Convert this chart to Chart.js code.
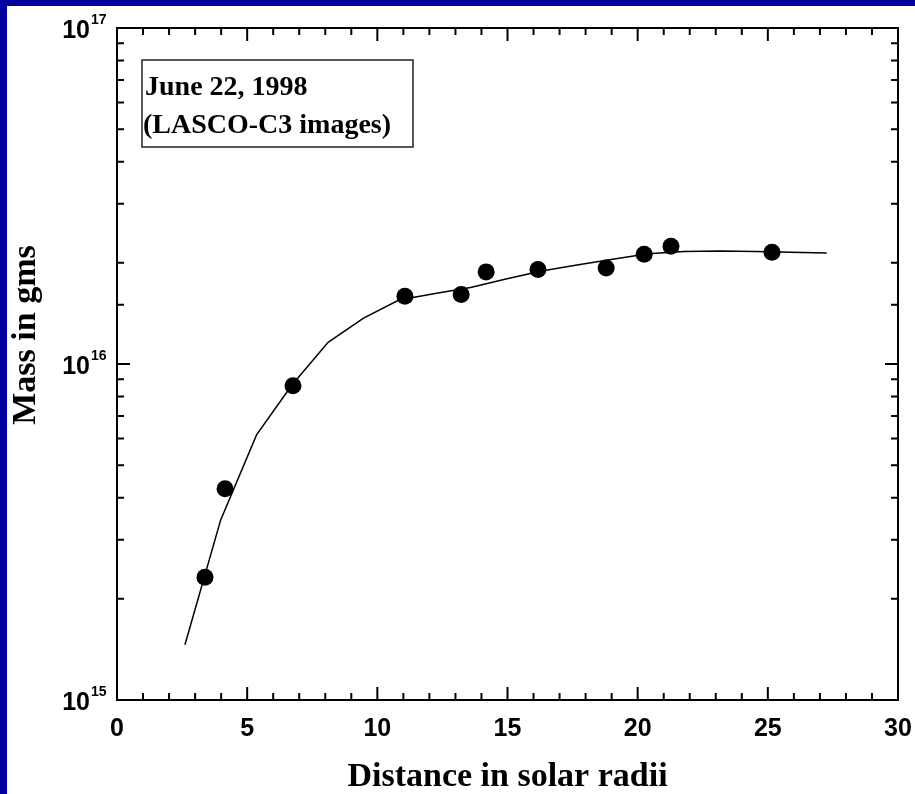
<!DOCTYPE html>
<html>
<head>
<meta charset="utf-8">
<script src="https://cdn.jsdelivr.net/npm/chart.js@4/dist/chart.umd.min.js"></script>
<style>
  html, body { margin: 0; padding: 0; background: #0000a0; }
  #wrap { width: 915px; height: 794px; }
</style>
</head>
<body>
<div id="wrap"><canvas id="c" width="915" height="794"></canvas></div>
<script>
// ---- data ----
// measured points (distance in solar radii, mass in g)
const pointDistance = [3.38, 4.15, 6.76, 11.06, 13.22, 14.18, 16.17, 18.79, 20.25, 21.28, 25.16];
const pointMass     = [2.32e15, 4.25e15, 8.61e15, 1.59e16, 1.61e16, 1.88e16, 1.91e16, 1.93e16, 2.12e16, 2.24e16, 2.15e16];
// fitted curve
const fitDistance = [2.61, 3.98, 5.36, 6.72, 8.11, 9.47, 10.83, 12.22, 13.58, 14.94, 16.31, 17.67, 19.04, 20.40, 21.78, 23.15, 24.51, 25.89, 27.26];
const fitMass     = [1.46e15, 3.43e15, 6.15e15, 8.66e15, 1.16e16, 1.37e16, 1.55e16, 1.62e16, 1.69e16, 1.79e16, 1.89e16, 1.97e16, 2.05e16, 2.13e16, 2.16e16, 2.17e16, 2.16e16, 2.15e16, 2.14e16];
// axes
const xTickValues = [0, 5, 10, 15, 20, 25, 30];
const yDecadeExponents = [15, 16, 17];
const yTickBase = '10';
const xTitle = 'Distance in solar radii';
const yTitle = 'Mass in gms';
const noteLines = ['June 22, 1998', '(LASCO-C3 images)'];

const SANS = '"Liberation Sans", Arial, Helvetica, sans-serif';
const SERIF = '"Liberation Serif", "Times New Roman", Times, serif';

function isDecade(v) {
  const e = Math.log10(v);
  return Math.abs(e - Math.round(e)) < 1e-9;
}

function zeroPadding(s) {
  s.paddingLeft = 0; s.paddingRight = 0; s.paddingTop = 0; s.paddingBottom = 0;
}

const framePlugin = {
  id: 'frame',
  beforeDraw(chart) {
    const ctx = chart.ctx;
    ctx.save();
    ctx.fillStyle = '#0000a0';
    ctx.fillRect(0, 0, chart.width, chart.height);
    ctx.fillStyle = '#ffffff';
    ctx.fillRect(7, 6, chart.width - 7, chart.height - 6);
    ctx.restore();
  },
  afterDraw(chart) {
    const ctx = chart.ctx;
    const a = chart.chartArea;
    const xs = chart.scales.x, ys = chart.scales.y;
    ctx.save();
    ctx.strokeStyle = '#000';
    ctx.fillStyle = '#000';
    // frame
    ctx.lineWidth = 2;
    ctx.strokeRect(a.left, a.top, a.right - a.left, a.bottom - a.top);
    // x ticks (inward, bottom and top)
    ctx.beginPath();
    for (let v = xs.min; v <= xs.max; v += 1) {
      const px = xs.getPixelForValue(v);
      const len = (xTickValues.indexOf(v) >= 0) ? 13 : 7;
      ctx.moveTo(px, a.bottom); ctx.lineTo(px, a.bottom - len);
      ctx.moveTo(px, a.top); ctx.lineTo(px, a.top + len);
    }
    // y ticks (inward, left and right)
    for (const t of ys.ticks) {
      const py = ys.getPixelForValue(t.value);
      const len = isDecade(t.value) ? 13 : 7;
      ctx.moveTo(a.left, py); ctx.lineTo(a.left + len, py);
      ctx.moveTo(a.right, py); ctx.lineTo(a.right - len, py);
    }
    ctx.stroke();
    // exponents of y tick labels
    ctx.font = 'bold 14px ' + SANS;
    ctx.textAlign = 'left';
    ctx.textBaseline = 'middle';
    yDecadeExponents.forEach(e => {
      const py = ys.getPixelForValue(Math.pow(10, e));
      ctx.fillText(String(e), 91, py - 8);
    });
    // y title
    ctx.save();
    ctx.translate(26, 335);
    ctx.rotate(-Math.PI / 2);
    ctx.font = 'bold 34px ' + SERIF;
    ctx.textAlign = 'center';
    ctx.textBaseline = 'middle';
    ctx.fillText(yTitle, 0, 0);
    ctx.restore();
    // note box
    const bx = a.left + 25, by = a.top + 32;
    ctx.lineWidth = 1.5;
    ctx.strokeStyle = '#222';
    ctx.strokeRect(bx, by, 271, 87);
    ctx.font = 'bold 28px ' + SERIF;
    ctx.textAlign = 'left';
    ctx.textBaseline = 'alphabetic';
    ctx.fillText(noteLines[0], bx + 3, by + 35);
    ctx.fillText(noteLines[1], bx + 1, by + 73);
    ctx.restore();
  }
};

new Chart(document.getElementById('c'), {
  type: 'scatter',
  data: {
    datasets: [
      {
        label: 'measured',
        data: pointDistance.map((x, i) => ({ x: x, y: pointMass[i] })),
        showLine: false,
        pointRadius: 8.5,
        pointBackgroundColor: '#000',
        pointBorderColor: '#000',
        pointBorderWidth: 0,
        order: 1
      },
      {
        label: 'fit',
        data: fitDistance.map((x, i) => ({ x: x, y: fitMass[i] })),
        showLine: true,
        borderColor: '#000',
        borderWidth: 1.5,
        pointRadius: 0,
        tension: 0,
        order: 2
      }
    ]
  },
  options: {
    responsive: false,
    animation: false,
    devicePixelRatio: 1,
    layout: { padding: { left: 0, top: 28, right: 17, bottom: 0 } },
    plugins: { legend: { display: false }, tooltip: { enabled: false } },
    scales: {
      x: {
        type: 'linear',
        position: 'bottom',
        min: 0, max: 30,
        grid: { display: false, drawTicks: false },
        border: { display: false },
        afterBuildTicks(s) { s.ticks = xTickValues.map(v => ({ value: v })); },
        ticks: {
          stepSize: 5,
          maxRotation: 0,
          autoSkip: false,
          padding: 14,
          color: '#000',
          font: { family: SANS, weight: 'bold', size: 25 }
        },
        title: {
          display: true,
          text: xTitle,
          color: '#000',
          padding: 0,
          font: { family: SERIF, weight: 'bold', size: 34, lineHeight: 1 }
        },
        afterFit(s) { s.height = 94; zeroPadding(s); }
      },
      y: {
        type: 'logarithmic',
        position: 'left',
        min: 1e15, max: 1e17,
        grid: { display: false, drawTicks: false },
        border: { display: false },
        ticks: {
          autoSkip: false,
          padding: 27,
          labelOffset: 3,
          color: '#000',
          font: { family: SANS, weight: 'bold', size: 25 },
          callback: (v) => isDecade(v) ? yTickBase : ''
        },
        afterFit(s) { s.width = 117; zeroPadding(s); }
      }
    }
  },
  plugins: [framePlugin]
});
</script>
</body>
</html>
